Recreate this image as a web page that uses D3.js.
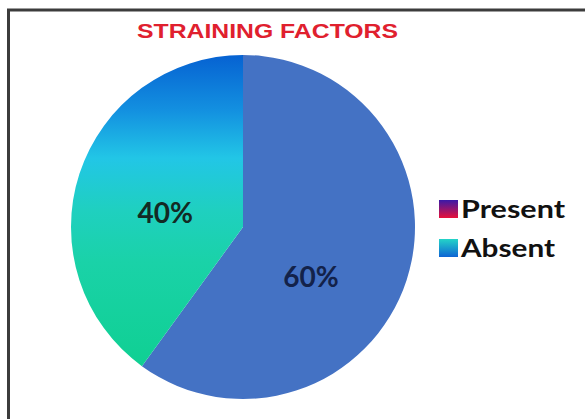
<!DOCTYPE html>
<html>
<head>
<meta charset="utf-8">
<script src="https://cdn.jsdelivr.net/npm/d3@7"></script>
<style>
  body { margin: 0; background: #fff; }
  svg { display: block; }
</style>
</head>
<body>
<div id="chart"></div>
<script>
var categories = ["Present", "Absent"];
var shares = [60, 40];
var sliceLabels = ["60%", "40%"];
var chartTitle = "STRAINING FACTORS";

var width = 585,
    height = 419,
    cx = 243,
    cy = 227,
    radius = 172;

// label placement tweaks (radius factor, angle nudge in radians)
var labelRadius = [0.49, 0.46],
    labelNudge = [0.32, -0.136],
    legendTextWidth = [104, 94];

var svg = d3.select("#chart").append("svg")
    .attr("width", width)
    .attr("height", height);

var defs = svg.append("defs");

// slice fill for the "Absent" wedge, runs top to bottom (local coords of the pie group)
var absentFill = defs.append("linearGradient")
    .attr("id", "absentFill")
    .attr("gradientUnits", "userSpaceOnUse")
    .attr("x1", 0).attr("y1", -radius)
    .attr("x2", 0).attr("y2", radius);
[["0", "#0662d2"], ["0.16", "#1390e0"], ["0.3", "#22c6e6"], ["0.45", "#1fd0c0"], ["0.6", "#1ad2a8"], ["1", "#0ccf8c"]]
    .forEach(function(s) {
        absentFill.append("stop").attr("offset", s[0]).attr("stop-color", s[1]);
    });

// legend swatches
var presentKey = defs.append("linearGradient")
    .attr("id", "presentKey").attr("x1", 0).attr("y1", 0).attr("x2", 0).attr("y2", 1);
presentKey.append("stop").attr("offset", "0").attr("stop-color", "#3a1aa8");
presentKey.append("stop").attr("offset", "1").attr("stop-color", "#e8103a");

var absentKey = defs.append("linearGradient")
    .attr("id", "absentKey").attr("x1", 0).attr("y1", 0).attr("x2", 0).attr("y2", 1);
absentKey.append("stop").attr("offset", "0").attr("stop-color", "#24d4c8");
absentKey.append("stop").attr("offset", "1").attr("stop-color", "#0e64d4");

var sliceFills = ["#4472c4", "url(#absentFill)"];
var legendFills = ["url(#presentKey)", "url(#absentKey)"];
var labelColors = ["#13224a", "#132a24"];

// outer frame, open at right and bottom like the cropped original
svg.append("path")
    .attr("d", "M8.5," + height + " V10 H" + width)
    .attr("fill", "none")
    .attr("stroke", "#3c3c3c")
    .attr("stroke-width", 3);

svg.append("text")
    .attr("x", 137)
    .attr("y", 38)
    .attr("textLength", 261)
    .attr("lengthAdjust", "spacingAndGlyphs")
    .style("font-family", "'Liberation Sans', Arial, sans-serif")
    .style("font-weight", "bold")
    .style("font-size", "20px")
    .style("fill", "#e0202e")
    .text(chartTitle);

var pie = d3.pie().sort(null).value(function(d) { return d; });
var arc = d3.arc().innerRadius(0).outerRadius(radius);

var g = svg.append("g").attr("transform", "translate(" + cx + "," + cy + ")");

var slices = g.selectAll(".slice")
    .data(pie(shares))
    .enter().append("g")
    .attr("class", "slice");

slices.append("path")
    .attr("d", arc)
    .attr("fill", function(d, i) { return sliceFills[i]; });

slices.append("text")
    .attr("transform", function(d, i) {
        var a = (d.startAngle + d.endAngle) / 2 + labelNudge[i],
            r = radius * labelRadius[i];
        return "translate(" + (Math.sin(a) * r) + "," + (-Math.cos(a) * r) + ")";
    })
    .attr("dy", "0.36em")
    .attr("text-anchor", "middle")
    .style("font-family", "Lato, 'Open Sans', sans-serif")
    .style("font-weight", "bold")
    .style("font-size", "28px")
    .style("fill", function(d, i) { return labelColors[i]; })
    .text(function(d, i) { return sliceLabels[i]; });

var legend = svg.selectAll(".legendItem")
    .data(categories)
    .enter().append("g")
    .attr("class", "legendItem")
    .attr("transform", function(d, i) { return "translate(439," + (200 + i * 39) + ")"; });

legend.append("rect")
    .attr("width", 19)
    .attr("height", 18)
    .attr("fill", function(d, i) { return legendFills[i]; });

legend.append("text")
    .attr("x", 22)
    .attr("y", 18)
    .attr("textLength", function(d, i) { return legendTextWidth[i]; })
    .attr("lengthAdjust", "spacingAndGlyphs")
    .style("font-family", "Lato, 'Open Sans', sans-serif")
    .style("font-weight", "bold")
    .style("font-size", "25px")
    .style("fill", "#111")
    .text(function(d) { return d; });
</script>
</body>
</html>
